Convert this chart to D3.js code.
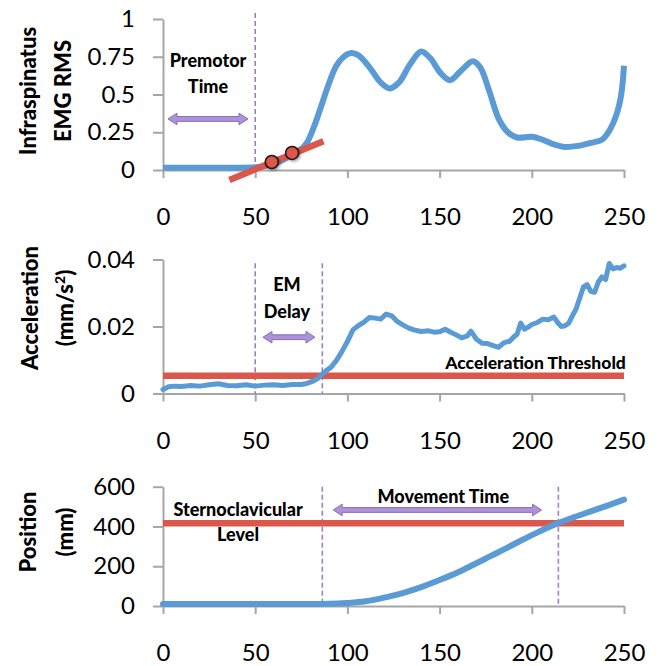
<!DOCTYPE html>
<html>
<head>
<meta charset="utf-8">
<script src="https://cdn.jsdelivr.net/npm/d3@7"></script>
<style>
  html, body { margin: 0; padding: 0; background: #fff; }
  svg { display: block; }
  text { font-family: Lato, "Open Sans", sans-serif; fill: #000; }
</style>
</head>
<body>
<svg id="chart" width="662" height="666"></svg>
<script>
// ---------- data ----------
const xTicks = [0, 50, 100, 150, 200, 250];

// Panel 1: Infraspinatus EMG RMS
const emgTicks = [0, 0.25, 0.5, 0.75, 1];
const emgX = [0, 20, 40, 50, 55, 60, 65, 70, 74, 78, 82, 86, 89, 94, 98, 102, 106, 112, 118, 123, 128, 134, 140, 145, 150, 155.6, 161, 168, 172, 177, 182, 187, 192, 200, 206, 212, 218, 225, 232, 238, 242, 246, 248.5, 250];
const emgY = [0.015, 0.015, 0.015, 0.018, 0.025, 0.042, 0.066, 0.1, 0.13, 0.18, 0.29, 0.43, 0.54, 0.69, 0.75, 0.775, 0.76, 0.68, 0.58, 0.54, 0.58, 0.7, 0.785, 0.74, 0.65, 0.595, 0.65, 0.72, 0.68, 0.52, 0.34, 0.25, 0.215, 0.22, 0.2, 0.17, 0.153, 0.16, 0.18, 0.2, 0.26, 0.37, 0.5, 0.69];
const onsetFitX = [36, 87];
const onsetFitY = [-0.066, 0.19];
const onsetPointsX = [59, 70];
const onsetPointsY = [0.053, 0.113];

// Panel 2: Acceleration
const accTicks = [0, 0.02, 0.04];
const accX = [0, 3, 6, 10, 15, 20, 25, 30, 35, 40, 45, 50, 55, 60, 65, 70, 75, 78, 81, 84, 86, 88, 91, 94, 97, 100, 103, 106, 109, 112, 115, 118, 121, 124, 127, 130, 133, 136, 140, 144, 147, 150, 153, 156, 159, 162, 165, 167, 170, 173, 176, 179, 182, 185, 188, 190, 192, 194, 196, 198, 200, 203, 206, 209, 212, 214, 216, 218, 220, 222, 224, 226, 228, 230, 232, 234, 236, 238, 240, 242, 244, 246, 248, 250];
const accY = [0.0012, 0.0020, 0.0022, 0.0021, 0.0024, 0.0022, 0.0026, 0.0029, 0.0024, 0.0023, 0.0026, 0.0022, 0.0025, 0.0026, 0.0024, 0.0027, 0.0027, 0.0030, 0.0036, 0.0045, 0.0056, 0.0066, 0.0078, 0.0098, 0.0125, 0.0155, 0.0190, 0.0203, 0.0213, 0.0227, 0.0225, 0.0222, 0.0237, 0.0232, 0.0215, 0.0205, 0.0196, 0.0190, 0.0185, 0.0187, 0.0183, 0.0184, 0.0192, 0.0183, 0.0175, 0.0166, 0.0172, 0.0186, 0.0162, 0.0150, 0.0149, 0.0143, 0.0138, 0.0152, 0.0156, 0.0168, 0.0177, 0.0210, 0.0192, 0.0198, 0.0206, 0.0212, 0.0222, 0.0220, 0.0228, 0.0212, 0.0200, 0.0202, 0.0210, 0.0232, 0.0252, 0.0285, 0.0318, 0.0325, 0.0305, 0.0302, 0.0332, 0.0348, 0.0340, 0.0388, 0.0372, 0.0376, 0.0374, 0.0381];
const accThreshold = 0.0053;

// Panel 3: Position
const posTicks = [0, 200, 400, 600];
const posX = [0, 50, 86, 95, 100, 110, 120, 130, 140, 150, 160, 168, 177, 186, 195, 204, 214, 223, 232, 241, 250];
const posY = [10, 10, 10, 12, 15, 24, 42, 65, 95, 131, 170, 206, 248, 290, 333, 374, 416, 447, 476, 505, 535];
const scLevel = 416;

// Event markers (time)
const emgOnset = 50;
const movementOnset = 86.4;
const movementEnd = 214.4;

// ---------- styles ----------
const BLUE = "#5b9bd5", RED = "#d9574b", PURPLE = "#9b7fc8", AXIS = "#a6a6a6";

const svg = d3.select("#chart");
svg.append("rect").attr("width", 662).attr("height", 666).attr("fill", "#fff");

const defs = svg.append("defs");
const f = defs.append("filter").attr("id", "shadow").attr("x", "-50%").attr("y", "-50%").attr("width", "200%").attr("height", "200%");
f.append("feDropShadow").attr("dx", 1.5).attr("dy", 1.5).attr("stdDeviation", 1.2).attr("flood-color", "#000").attr("flood-opacity", 0.35);

const x = d3.scaleLinear().domain([0, 250]).range([163, 624]);
const y1 = d3.scaleLinear().domain([0, 1]).range([170, 19]);
const y2 = d3.scaleLinear().domain([0, 0.04]).range([393.5, 259.5]);
const y3 = d3.scaleLinear().domain([0, 600]).range([606, 486.7]);

function drawAxes(y, ticks, fmt) {
  const gy = svg.append("g").attr("transform", `translate(${x(0)},0)`)
    .call(d3.axisLeft(y).tickValues(ticks).tickFormat(fmt).tickSize(10).tickSizeOuter(0).tickPadding(18));
  const gx = svg.append("g").attr("transform", `translate(0,${y(0)})`)
    .call(d3.axisBottom(x).tickValues(xTicks).tickFormat(d3.format("d")).tickSize(8).tickSizeOuter(0).tickPadding(30));
  [gx, gy].forEach(g => {
    g.select(".domain").attr("stroke", AXIS).attr("stroke-width", 2);
    g.selectAll(".tick line").attr("stroke", AXIS).attr("stroke-width", 2);
    g.selectAll(".tick text").attr("font-size", 24).attr("font-family", "Lato, sans-serif").attr("fill", "#000");
  });
}

function yTitle(lines, cx, cy) {
  const t = svg.append("text").attr("transform", `translate(0,${cy}) rotate(-90)`)
    .attr("text-anchor", "middle").attr("font-weight", 900).attr("font-size", 22);
  lines.forEach((l, i) => {
    const ts = t.append("tspan").attr("x", 0).attr("y", cx[i]).attr("dy", "0.36em");
    if (typeof l === "string") ts.text(l);
    else { ts.text(l[0]); t.append("tspan").attr("baseline-shift", "super").attr("font-size", 14).text(l[1]); t.append("tspan").text(l[2]); }
  });
}

function vDashed(xv, y, v0, v1) {
  svg.append("line").attr("x1", x(xv)).attr("x2", x(xv)).attr("y1", y(v0)).attr("y2", y(v1))
    .attr("stroke", PURPLE).attr("stroke-width", 1.6).attr("stroke-dasharray", "5,3");
}

function dblArrow(xa, xb, y, v) {
  const x1 = x(xa), x2 = x(xb), yy = y(v), h = 9, w = 2.4, H = 5.8;
  const p = `M${x1},${yy} L${x1 + h},${yy - H} L${x1 + h},${yy - w} L${x2 - h},${yy - w} L${x2 - h},${yy - H} L${x2},${yy} L${x2 - h},${yy + H} L${x2 - h},${yy + w} L${x1 + h},${yy + w} L${x1 + h},${yy + H} Z`;
  svg.append("path").attr("d", p).attr("fill", "#ab93d6").attr("stroke", "#8a6bbd").attr("stroke-width", 1);
}

function label(lines, xv, y, vals, size, anchor) {
  lines.forEach((l, i) => {
    svg.append("text").attr("x", x(xv)).attr("y", y(vals[i])).attr("dy", "0.36em")
      .attr("text-anchor", anchor || "middle").attr("font-weight", 900).attr("font-size", size).text(l);
  });
}

// ---------- Panel 1 ----------
drawAxes(y1, emgTicks, d => d === 0 ? "0" : d === 1 ? "1" : String(d));
yTitle(["Infraspinatus", "EMG RMS"], [28, 63], 91);
vDashed(emgOnset, y1, 1.04, 0);
dblArrow(2.7, 46.1, y1, 0.338);
label(["Premotor", "Time"], 24.4, y1, [0.722, 0.556], 18);
const line1 = d3.line().x((d, i) => x(emgX[i])).y((d, i) => y1(emgY[i])).curve(d3.curveCatmullRom.alpha(0.5));
svg.append("path").attr("d", line1(emgX)).attr("fill", "none").attr("stroke", BLUE).attr("stroke-width", 6).attr("stroke-linejoin", "round");
svg.append("line").attr("x1", x(onsetFitX[0])).attr("y1", y1(onsetFitY[0])).attr("x2", x(onsetFitX[1])).attr("y2", y1(onsetFitY[1]))
  .attr("stroke", RED).attr("stroke-width", 6.5);
svg.selectAll(".onset").data(onsetPointsX).enter().append("circle")
  .attr("cx", d => x(d)).attr("cy", (d, i) => y1(onsetPointsY[i])).attr("r", 6.5)
  .attr("fill", "#e05545").attr("stroke", "#1a1a1a").attr("stroke-width", 1.6).attr("filter", "url(#shadow)");

// ---------- Panel 2 ----------
drawAxes(y2, accTicks, d => d === 0 ? "0" : d3.format(".2f")(d));
yTitle(["Acceleration", ["(mm/s", "2", ")"]], [30, 65], 308);
vDashed(emgOnset, y2, 0.0389, 0);
vDashed(movementOnset, y2, 0.0389, 0);
dblArrow(54.2, 82.4, y2, 0.0168);
label(["EM", "Delay"], 67.2, y2, [0.0324, 0.0244], 18);
svg.append("line").attr("x1", x(0)).attr("x2", x(250)).attr("y1", y2(accThreshold)).attr("y2", y2(accThreshold))
  .attr("stroke", RED).attr("stroke-width", 6.5);
label(["Acceleration Threshold"], 251, y2, [0.0092], 17.5, "end");
const line2 = d3.line().x((d, i) => x(accX[i])).y((d, i) => y2(accY[i])).curve(d3.curveLinear);
svg.append("path").attr("d", line2(accX)).attr("fill", "none").attr("stroke", BLUE).attr("stroke-width", 5).attr("stroke-linejoin", "round").attr("stroke-linecap", "round");

// ---------- Panel 3 ----------
drawAxes(y3, posTicks, d3.format("d"));
yTitle(["Position", "(mm)"], [28, 65], 532);
vDashed(movementOnset, y3, 600, 0);
vDashed(movementEnd, y3, 600, 0);
svg.append("line").attr("x1", x(0)).attr("x2", x(250)).attr("y1", y3(scLevel)).attr("y2", y3(scLevel))
  .attr("stroke", RED).attr("stroke-width", 6.5);
label(["Sternoclavicular", "Level"], 40.7, y3, [483, 357], 18);
dblArrow(92.3, 205.3, y3, 483);
label(["Movement Time"], 152, y3, [550], 18);
const line3 = d3.line().x((d, i) => x(posX[i])).y((d, i) => y3(posY[i])).curve(d3.curveMonotoneX);
svg.append("path").attr("d", line3(posX)).attr("fill", "none").attr("stroke", BLUE).attr("stroke-width", 6).attr("stroke-linecap", "round");
</script>
</body>
</html>
